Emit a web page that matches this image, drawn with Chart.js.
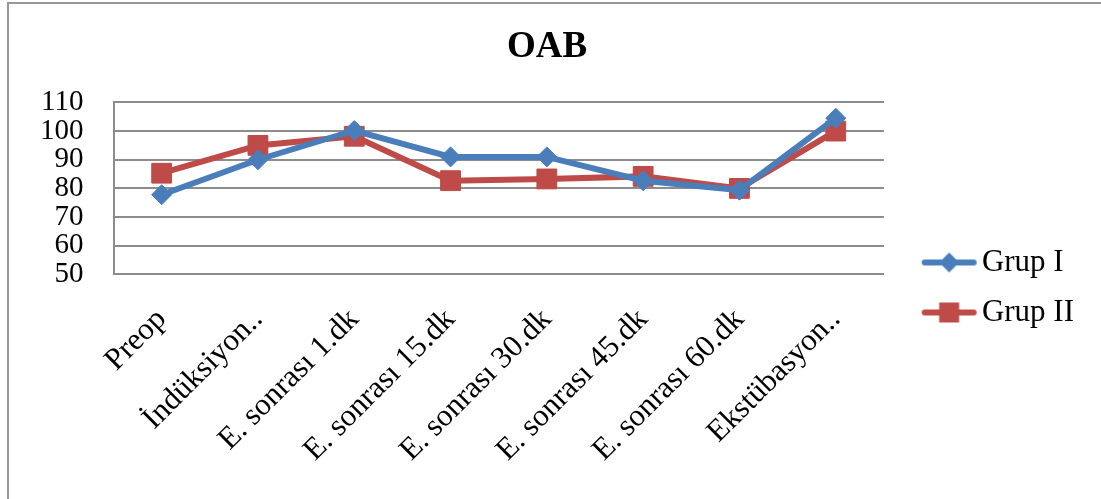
<!DOCTYPE html>
<html lang="tr">
<head>
  <meta charset="UTF-8">
  <title>OAB</title>
  <script src="https://cdn.jsdelivr.net/npm/chart.js"></script>
  <style>
    html, body {
      margin: 0;
      padding: 0;
      background: #fff;
    }
    #wrap {
      position: relative;
      width: 1101px;
      height: 499px;
      overflow: hidden;
    }
    #frame {
      position: absolute;
      left: 7px;
      top: 2px;
      width: 1200px;
      height: 600px;
      border-left: 2px solid #979797;
      border-top: 2px solid #979797;
    }
    #chart {
      position: absolute;
      left: 0;
      top: 0;
    }
  </style>
</head>
<body>
  <div id="wrap">
    <div id="frame"></div>
    <canvas id="chart" width="1101" height="499"></canvas>
  </div>

  <script>
    // zaman noktalari
    const categories = ['Preop', 'İndüksiyon..', 'E. sonrası 1.dk', 'E. sonrası 15.dk',
      'E. sonrası 30.dk', 'E. sonrası 45.dk', 'E. sonrası 60.dk', 'Ekstübasyon..'];
    const grupI = [77.8, 90, 100.2, 91, 91, 82.7, 79.4, 104.5];
    const grupII = [85.3, 95, 98.2, 82.7, 83.3, 84.2, 80, 100];
    const yTicks = [50, 60, 70, 80, 90, 100, 110];

    const BLUE = '#4a7ebb';
    const RED = '#be4b48';
    const GRID = '#8c8c8c';
    const FONT = 'Liberation Serif';

    // legend icon: short line with the marker in the middle
    // (left part of the canvas is left empty on purpose, it pushes the line right)
    function legendIcon(color, shape) {
      const c = document.createElement('canvas');
      c.width = 102;
      c.height = 24;
      const g = c.getContext('2d');
      g.strokeStyle = color;
      g.lineWidth = 6;
      g.lineCap = 'round';
      g.beginPath();
      g.moveTo(41, 12);
      g.lineTo(90, 12);
      g.stroke();
      g.fillStyle = color;
      const cx = 65.5;
      if (shape === 'diamond') {
        g.beginPath();
        g.moveTo(cx, 2);
        g.lineTo(cx + 10, 12);
        g.lineTo(cx, 22);
        g.lineTo(cx - 10, 12);
        g.closePath();
        g.fill();
      } else {
        g.fillRect(cx - 10, 2, 20, 20);
      }
      return c;
    }
    const icons = [legendIcon(BLUE, 'diamond'), legendIcon(RED, 'square')];

    const ctx = document.getElementById('chart').getContext('2d');
    const chart = new Chart(ctx, {
      type: 'line',
      data: {
        labels: categories,
        datasets: [{
          label: 'Grup I',
          data: grupI,
          borderColor: BLUE,
          backgroundColor: BLUE,
          borderWidth: 6,
          pointStyle: 'rectRot',
          pointRadius: 10,
          pointHoverRadius: 10,
          pointBorderWidth: 1,
          tension: 0
        }, {
          label: 'Grup II',
          data: grupII,
          borderColor: RED,
          backgroundColor: RED,
          borderWidth: 6,
          pointStyle: 'rect',
          pointRadius: 14,
          pointHoverRadius: 14,
          pointBorderWidth: 1,
          tension: 0
        }]
      },
      options: {
        responsive: false,
        animation: false,
        layout: {
          padding: { left: 10, right: 17, top: 0, bottom: 3 }
        },
        plugins: {
          title: {
            display: true,
            text: 'OAB',
            color: '#000',
            font: { family: FONT, size: 37, weight: 'bold' },
            padding: { top: 25, bottom: 33 }
          },
          legend: {
            position: 'right',
            // empty title only used as a spacer so the entries sit lower
            title: {
              display: true,
              text: '',
              font: { size: 10 },
              padding: { top: 67, bottom: 0 }
            },
            labels: {
              color: '#000',
              font: { family: FONT, size: 31 },
              usePointStyle: true,
              pointStyleWidth: 63.5,
              padding: 19,
              generateLabels: (c) => {
                const items = Chart.defaults.plugins.legend.labels.generateLabels(c);
                items.forEach((it, i) => { it.pointStyle = icons[i]; });
                return items;
              }
            }
          },
          tooltip: { enabled: false }
        },
        scales: {
          x: {
            offset: true,
            grid: { display: false, drawTicks: false },
            border: { display: true, color: GRID, width: 2 },
            ticks: {
              color: '#000',
              font: { family: FONT, size: 31 },
              minRotation: 45,
              maxRotation: 45,
              padding: 27,
              autoSkip: false
            }
          },
          y: {
            min: 50,
            max: 110,
            afterBuildTicks: (axis) => { axis.ticks = yTicks.map(v => ({ value: v })); },
            grid: { color: GRID, lineWidth: 2, drawTicks: false },
            border: { display: true, color: GRID, width: 2 },
            ticks: {
              color: '#000',
              font: { family: FONT, size: 29 },
              padding: 30,
              autoSkip: false
            }
          }
        }
      }
    });
  </script>
</body>
</html>
